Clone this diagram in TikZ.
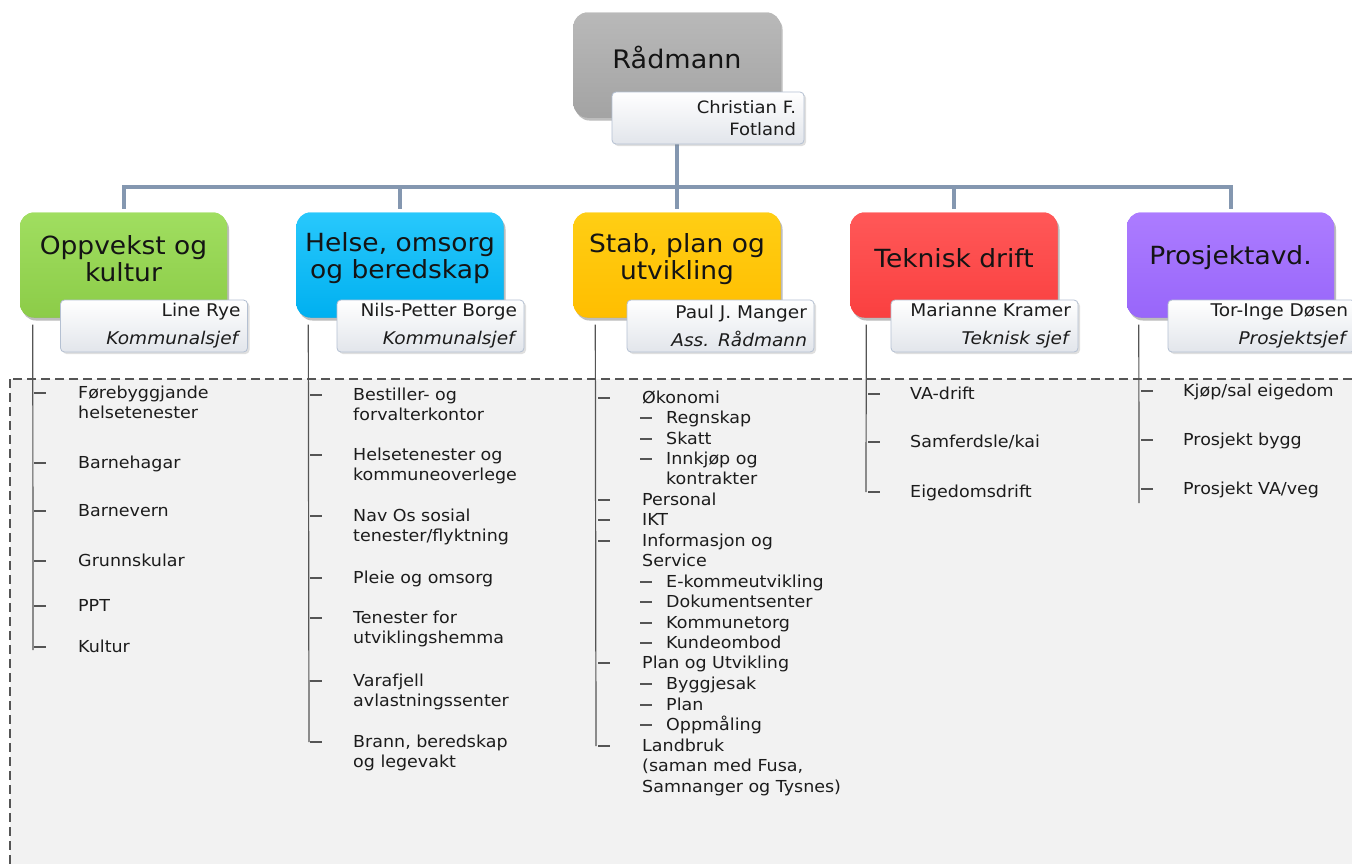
\documentclass[tikz,border=0pt]{standalone}
\usepackage{fontspec}
\setmainfont{DejaVu Sans}[FakeStretch=1.06]
\usetikzlibrary{shadows,calc}
\definecolor{connc}{HTML}{8497B0}
\definecolor{linec}{HTML}{555555}
\definecolor{areac}{HTML}{F2F2F2}
\definecolor{txtc}{HTML}{1C1C1C}
\definecolor{nameedge}{HTML}{B4C0D2}
\definecolor{namebot}{HTML}{E2E5EB}
\newcommand\listentry[5]{%
  \node[itemtext] (#1) at (#2,#3+5.5) {#5};
  \draw[markline] (#4,#3) -- ++(12,0);}
\begin{document}
\begin{tikzpicture}[x=1pt,y=-1pt,
  connline/.style={draw=connc,line width=4pt},
  vline/.style={draw=linec,line width=1.2pt},
  markline/.style={draw=linec,line width=1.2pt},
  deptbox/.style={minimum width=207pt,minimum height=105pt,rounded corners=14pt,inner sep=0pt,
     drop shadow={shadow xshift=2pt,shadow yshift=-3pt,opacity=0.3}},
  namebox/.style={minimum width=187pt,minimum height=52pt,text width=173pt,align=right,
     inner xsep=7pt,inner ysep=0pt,rounded corners=4pt,draw=nameedge,line width=0.8pt,
     top color=white,bottom color=namebot,text=txtc,
     font=\fontsize{17.5}{28}\selectfont,
     drop shadow={shadow xshift=2pt,shadow yshift=-2pt,opacity=0.25}},
  titletext/.style={align=center,inner sep=0pt,text=black!92,font=\fontsize{25}{27}\selectfont},
  itemtext/.style={anchor=base west,inner sep=0pt,text width=240pt,align=left,text=txtc,
     font=\fontsize{16.5}{20.3}\selectfont}]
\useasboundingbox (0,0) rectangle (1352,863);
\clip (0,0) rectangle (1352,863);
\fill[white] (0,0) rectangle (1352,863);
% dashed area
\draw[fill=areac,draw=linec,line width=1.4pt,dash pattern=on 9pt off 5pt] (10,379) rectangle (1370,880);
% top box and departments
\node[deptbox,top color=gray!55,bottom color=gray!72] (r) at (677,65) {};
\coordinate (bus) at (677,187);
\node[deptbox,top color={rgb,255:red,160;green,222;blue,96},bottom color={rgb,255:red,140;green,204;blue,72}] (d1) at (123.5,265) {};
\node[deptbox,top color={rgb,255:red,40;green,200;blue,252},bottom color={rgb,255:red,0;green,176;blue,240}] (d2) at (400,265) {};
\node[deptbox,top color={rgb,255:red,255;green,206;blue,20},bottom color={rgb,255:red,255;green,190;blue,0}] (d3) at (677,265) {};
\node[deptbox,top color={rgb,255:red,255;green,88;blue,88},bottom color={rgb,255:red,250;green,64;blue,64}] (d4) at (954,265) {};
\node[deptbox,top color={rgb,255:red,172;green,124;blue,255},bottom color={rgb,255:red,152;green,102;blue,250}] (d5) at (1230.5,265) {};
% connectors
\foreach \d in {d1,d2,d3,d4,d5}{\draw[connline] (r.center) -- (bus) -| ([yshift=3pt]\d.north);}
% boxes again, on top of the connectors
\node[deptbox,top color=gray!55,bottom color=gray!72] at (r) {};
\node[deptbox,top color={rgb,255:red,160;green,222;blue,96},bottom color={rgb,255:red,140;green,204;blue,72}] at (d1) {};
\node[deptbox,top color={rgb,255:red,40;green,200;blue,252},bottom color={rgb,255:red,0;green,176;blue,240}] at (d2) {};
\node[deptbox,top color={rgb,255:red,255;green,206;blue,20},bottom color={rgb,255:red,255;green,190;blue,0}] at (d3) {};
\node[deptbox,top color={rgb,255:red,255;green,88;blue,88},bottom color={rgb,255:red,250;green,64;blue,64}] at (d4) {};
\node[deptbox,top color={rgb,255:red,172;green,124;blue,255},bottom color={rgb,255:red,152;green,102;blue,250}] at (d5) {};
\node[titletext,font=\fontsize{25.5}{27}\selectfont] (rt) at (677,57) {Rådmann};
\node[titletext] (t1) at (123.5,258.5) {Oppvekst og\\kultur};
\node[titletext] (t2) at (400,258.5) {Helse, omsorg\\og beredskap};
\node[titletext] (t3) at (677,259) {Stab, plan og\\utvikling};
\node[titletext] (t4) at (954,258) {Teknisk drift};
\node[titletext] (t5) at (1230.5,258) {Prosjektavd.};
% name boxes
\node[namebox,minimum width=190pt,text width=176pt,inner xsep=8pt,font=\fontsize{17}{22}\selectfont] (rn) at (708,118) {Christian F.\\Fotland};
\node[namebox] (n1) at (154,326) {Line Rye\\\textit{Kommunalsjef}};
\node[namebox] (n2) at (430.5,326) {Nils-Petter Borge\\\textit{Kommunalsjef}};
\node[namebox] (n3) at (720.5,326) {Paul J. Manger\\\textit{Ass. Rådmann}};
\node[namebox] (n4) at (984.5,326) {Marianne Kramer\\\textit{Teknisk sjef}};
\node[namebox] (n5) at (1261.5,326) {Tor-Inge Døsen\\\textit{Prosjektsjef}};
% list verticals
\draw[vline] ([xshift=13pt,yshift=-7pt]d1.south west) -- (33,650);
\draw[vline] ([xshift=12pt,yshift=-7pt]d2.south west) -- (309,742);
\draw[vline] ([xshift=22pt,yshift=-7pt]d3.south west) -- (596,746);
\draw[vline] ([xshift=16pt,yshift=-7pt]d4.south west) -- (866,492);
\draw[vline] ([xshift=12pt,yshift=-7pt]d5.south west) -- (1139,503);
% column 1
\listentry{a1}{78}{393}{34}{Førebyggjande\\helsetenester}
\listentry{a2}{78}{463}{34}{Barnehagar}
\listentry{a3}{78}{511}{34}{Barnevern}
\listentry{a4}{78}{561}{34}{Grunnskular}
\listentry{a5}{78}{606}{34}{PPT}
\listentry{a6}{78}{647}{34}{Kultur}
% column 2
\listentry{b1}{353}{395}{310}{Bestiller- og\\forvalterkontor}
\listentry{b2}{353}{455}{310}{Helsetenester og\\kommuneoverlege}
\listentry{b3}{353}{516}{310}{Nav Os sosial\\tenester/flyktning}
\listentry{b4}{353}{578}{310}{Pleie og omsorg}
\listentry{b5}{353}{618}{310}{Tenester for\\utviklingshemma}
\listentry{b6}{353}{681}{310}{Varafjell\\avlastningssenter}
\listentry{b7}{353}{742}{310}{Brann, beredskap\\og legevakt}
% column 3
\listentry{c1}{642}{398}{598}{Økonomi}
\listentry{c2}{666}{418}{640}{Regnskap}
\listentry{c3}{666}{439}{640}{Skatt}
\listentry{c4}{666}{459}{640}{Innkjøp og\\kontrakter}
\listentry{c5}{642}{500}{598}{Personal}
\listentry{c6}{642}{520}{598}{IKT}
\listentry{c7}{642}{541}{598}{Informasjon og\\Service}
\listentry{c8}{666}{582}{640}{E-kommeutvikling}
\listentry{c9}{666}{602}{640}{Dokumentsenter}
\listentry{c10}{666}{623}{640}{Kommunetorg}
\listentry{c11}{666}{643}{640}{Kundeombod}
\listentry{c12}{642}{663}{598}{Plan og Utvikling}
\listentry{c13}{666}{684}{640}{Byggjesak}
\listentry{c14}{666}{705}{640}{Plan}
\listentry{c15}{666}{725}{640}{Oppmåling}
\listentry{c16}{642}{746}{598}{Landbruk\\(saman med Fusa,\\Samnanger og Tysnes)}
% column 4
\listentry{e1}{910}{394}{868}{VA-drift}
\listentry{e2}{910}{442}{868}{Samferdsle/kai}
\listentry{e3}{910}{492}{868}{Eigedomsdrift}
% column 5
\listentry{f1}{1183}{391}{1141}{Kjøp/sal eigedom}
\listentry{f2}{1183}{440}{1141}{Prosjekt bygg}
\listentry{f3}{1183}{489}{1141}{Prosjekt VA/veg}
\end{tikzpicture}
\end{document}
